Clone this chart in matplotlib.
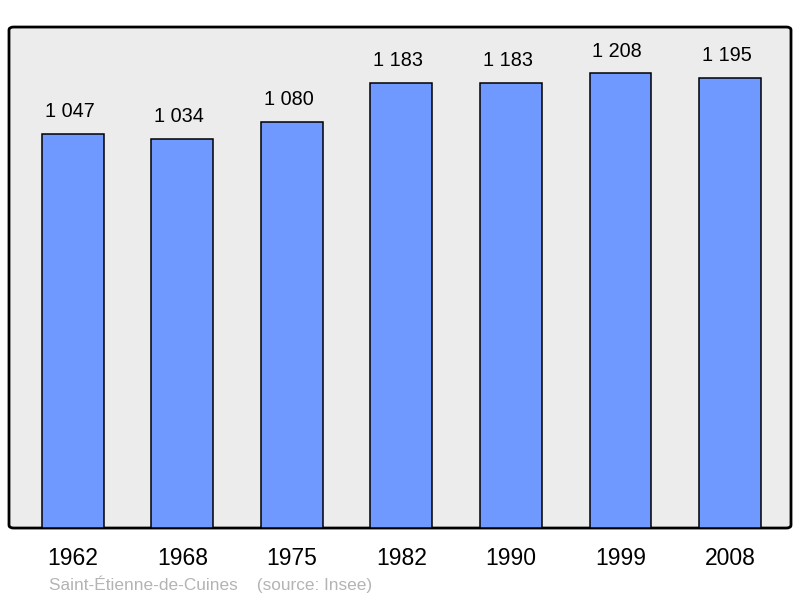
import matplotlib.pyplot as plt
from matplotlib.patches import FancyBboxPatch

plt.rcParams['font.family'] = ['Liberation Sans', 'DejaVu Sans']

# population data
years = ['1962', '1968', '1975', '1982', '1990', '1999', '2008']
population = [1047, 1034, 1080, 1183, 1183, 1208, 1195]
value_labels = ['1 047', '1 034', '1 080', '1 183', '1 183', '1 208', '1 195']

fig = plt.figure(figsize=(8, 5.98), dpi=100)
ax = fig.add_axes([0.01125, 0.117, 0.9775, 0.8378])
ax.set_facecolor('none')

# rounded frame behind the bars
frame = FancyBboxPatch((0, 0), 1, 1, boxstyle='round,pad=0,rounding_size=0.006',
                       transform=ax.transAxes, facecolor='#ececec', edgecolor='black',
                       linewidth=2, zorder=0, clip_on=False)
ax.add_patch(frame)

x = range(len(years))
bars = ax.bar(x, population, width=0.566, color='#7099ff', edgecolor='black',
              linewidth=1.1, zorder=2)

for xi, val, lab in zip(x, population, value_labels):
    ax.annotate(lab, (xi, val), xytext=(-2.5, 16), textcoords='offset points',
                ha='center', va='center', fontsize=14.3, color='black')

ax.set_xlim(-0.584, 6.557)
ax.set_ylim(0, 1331)
ax.set_xticks(list(x))
ax.set_xticklabels(years, fontsize=16.5)
ax.tick_params(axis='x', length=0, pad=14)
ax.set_yticks([])
for s in ax.spines.values():
    s.set_visible(False)

fig.text(49 / 800, 1 - 584 / 598, 'Saint-Étienne-de-Cuines    (source: Insee)',
         fontsize=12.4, color='#b4b4b4', ha='left', va='center')

fig.savefig('out.png', dpi=100)
